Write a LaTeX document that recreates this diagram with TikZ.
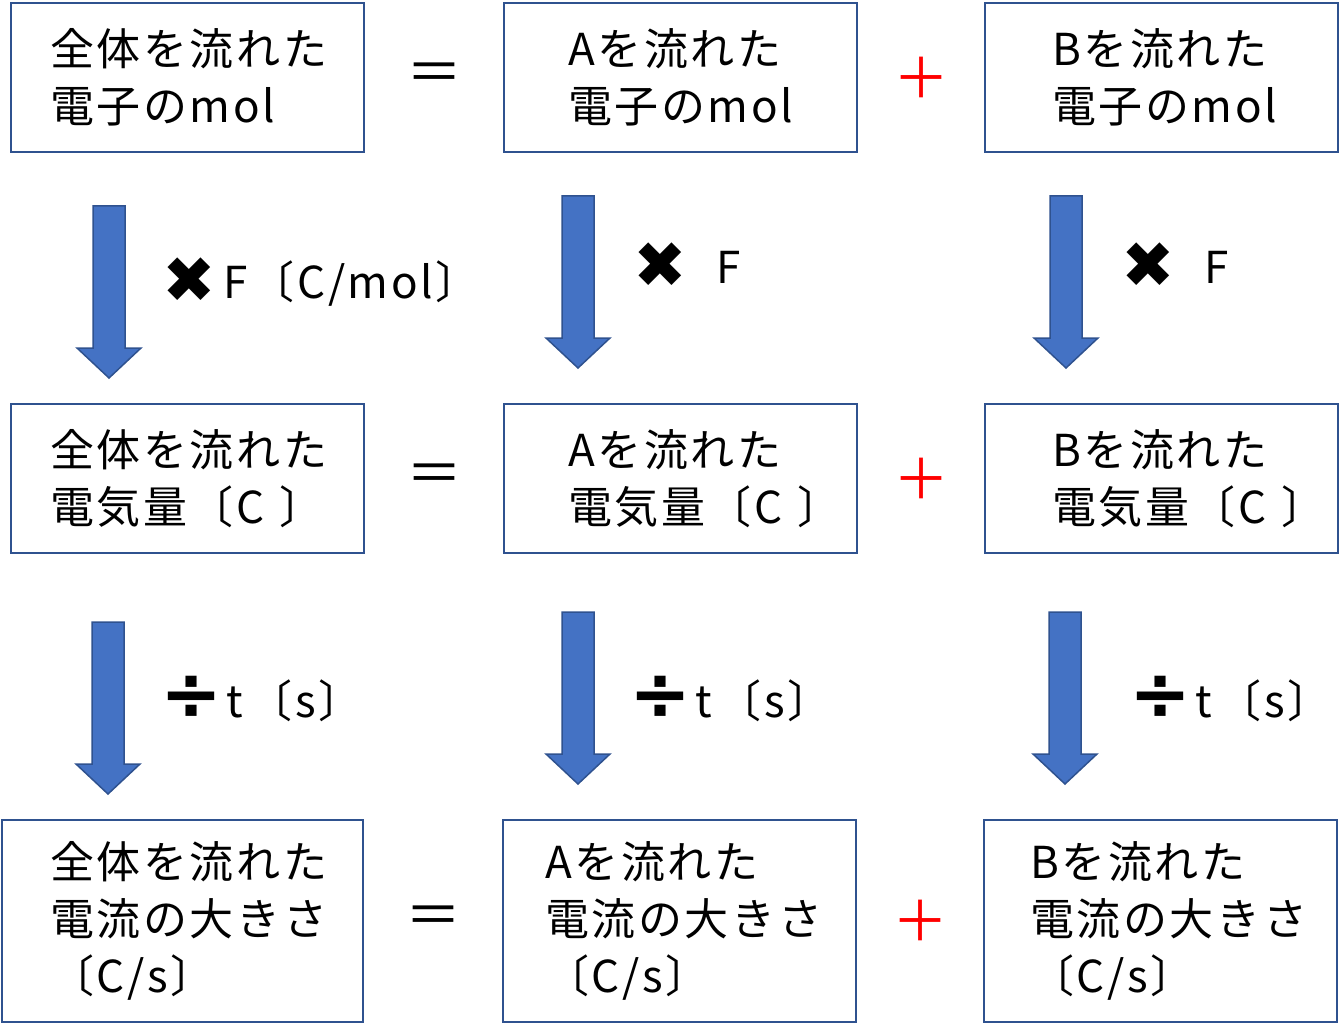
\documentclass[tikz,border=0pt]{standalone}
\usepackage{fontspec}
\newfontfamily\jpfont{Noto Sans CJK JP}[LetterSpace=6]
\newfontfamily\symfont{DejaVu Sans}
\usetikzlibrary{calc}
\definecolor{boxline}{RGB}{47,82,143}
\definecolor{arrowfill}{RGB}{68,114,196}
\newcommand{\timesmark}{\raisebox{-5pt}{\symfont\fontsize{64}{64}\selectfont ✖}}
\newcommand{\divmark}{\raisebox{-2pt}{\symfont\bfseries\fontsize{74}{74}\selectfont ÷}}
\tikzset{
  box/.style={draw=boxline, line width=2pt, minimum width=353pt,
    minimum height=149pt, inner sep=0pt, align=left},
  opsign/.style={inner sep=0pt, font=\jpfont\fontsize{56}{56}\selectfont},
  steplabel/.style={anchor=base west, inner sep=0pt},
  pics/downarr/.style={code={
    \draw[draw=boxline, fill=arrowfill, line width=1.5pt]
      (-16,0) -- (16,0) -- (16,142) -- (32,142) -- (0,172)
      -- (-32,142) -- (-16,142) -- cycle;}}
}

\begin{document}
\begin{tikzpicture}[x=1pt, y=-1pt, font=\jpfont\fontsize{44}{57}\selectfont]
\useasboundingbox (0,0) rectangle (1340,1024);

% electrons [mol]
\node[box, text width=275pt] (totmol) at (187.5,77.5) {全体を流れた\\電子のmol};
\node[box, text width=225pt] (amol) at (680.5,77.5) {Aを流れた\\電子のmol};
\node[box, text width=219pt] (bmol) at (1161.5,77.5) {Bを流れた\\電子のmol};
\node[opsign] (eqmol) at ($(totmol.east)!0.5!(amol.west)$) {＝};
\node[opsign, text=red] (plusmol) at ($(amol.east)!0.5!(bmol.west)$) {＋};

% times F
\pic (arrtotF) at (109,206) {downarr};
\pic (arraF) at (578,196) {downarr};
\pic (arrbF) at (1066,196) {downarr};
\node[steplabel] (multot) at (162,298) {\timesmark\hspace{8pt}F〔C/mol〕};
\node[steplabel] (mula) at (633,283) {\timesmark\hspace{30pt}F};
\node[steplabel] (mulb) at (1121,283) {\timesmark\hspace{30pt}F};

% charge [C]
\node[box, text width=275pt] (totq) at (187.5,478.5) {全体を流れた\\電気量〔C~〕};
\node[box, text width=225pt] (aq) at (680.5,478.5) {Aを流れた\\電気量〔C~〕};
\node[box, text width=219pt] (bq) at (1161.5,478.5) {Bを流れた\\電気量〔C~〕};
\node[opsign] (eqq) at ($(totq.east)!0.5!(aq.west)$) {＝};
\node[opsign, text=red] (plusq) at ($(aq.east)!0.5!(bq.west)$) {＋};

% divided by t
\pic (arrtott) at (108,622) {downarr};
\pic (arrat) at (578,612) {downarr};
\pic (arrbt) at (1065,612) {downarr};
\node[steplabel] (divtot) at (160,717) {\divmark\hspace{4pt}t\hspace{6pt}〔s〕};
\node[steplabel] (diva) at (629,717) {\divmark\hspace{4pt}t\hspace{6pt}〔s〕};
\node[steplabel] (divb) at (1129,717) {\divmark\hspace{4pt}t\hspace{6pt}〔s〕};

% current [C/s]
\node[box, minimum width=361pt, minimum height=202pt, text width=265pt] (totI) at (182.5,921) {全体を流れた\\電流の大きさ\\〔C/s〕};
\node[box, minimum height=202pt, text width=269pt] (aI) at (679.5,921) {Aを流れた\\電流の大きさ\\〔C/s〕};
\node[box, minimum height=202pt, text width=261pt] (bI) at (1160.5,921) {Bを流れた\\電流の大きさ\\〔C/s〕};
\node[opsign] (eqI) at ($(totI.east)!0.5!(aI.west)$) {＝};
\node[opsign, text=red] (plusI) at ($(aI.east)!0.5!(bI.west)$) {＋};
\end{tikzpicture}
\end{document}
